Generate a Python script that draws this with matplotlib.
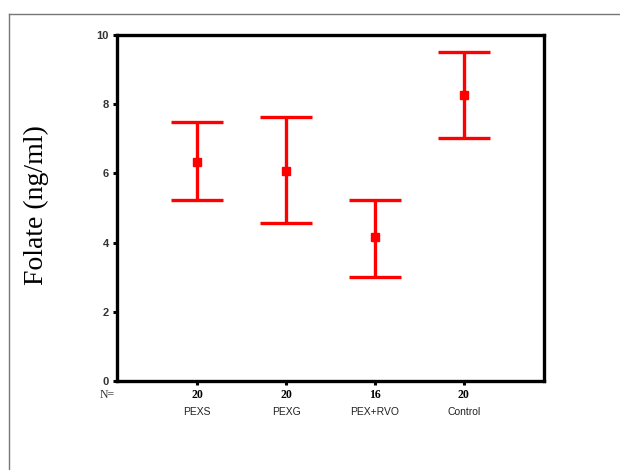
import matplotlib
matplotlib.use("Agg")
import matplotlib.pyplot as plt
from matplotlib.lines import Line2D
from matplotlib.transforms import blended_transform_factory

categories = ["PEXS", "PEXG", "PEX+RVO", "Control"]
n_values = ["20", "20", "16", "20"]
means = [6.33, 6.08, 4.15, 8.27]
upper = [7.49, 7.62, 5.23, 9.51]
lower = [5.23, 4.57, 3.00, 7.02]
yticks = [0, 2, 4, 6, 8, 10]

fig = plt.figure(figsize=(6.2, 4.7), dpi=100)
ax = fig.add_axes([117/620, 1-381/470, (544-117)/620, (381-35)/470])

x = list(range(1, len(categories)+1))
yerr_lo = [m - l for m, l in zip(means, lower)]
yerr_hi = [u - m for m, u in zip(means, upper)]
ax.errorbar(x, means, yerr=[yerr_lo, yerr_hi], fmt='s', color='#ff0000',
            ecolor='#ff0000', elinewidth=2.4, capsize=19, capthick=2.4,
            markersize=6, linestyle='none')

ax.set_xlim(0.1, 4.9)
ax.set_ylim(0, 10)
ax.set_yticks(yticks)
ax.set_yticklabels([str(t) for t in yticks], fontfamily='Liberation Sans',
                   fontweight='bold', fontsize=8, color='#333333')
ax.set_xticks(x)
ax.set_xticklabels(n_values, fontfamily='Liberation Serif', fontweight='bold',
                   fontsize=8.5)
ax.tick_params(axis='both', direction='out', length=3, width=2.2, color='black')
ax.tick_params(axis='x', pad=3)
ax.tick_params(axis='y', pad=3)
for s in ax.spines.values():
    s.set_linewidth(2.4)
    s.set_color('black')

trans = blended_transform_factory(ax.transData, fig.transFigure)
for xi, cat in zip(x, categories):
    ax.text(xi, 1-412/470, cat, transform=trans, ha='center', va='center',
            fontfamily='Liberation Sans', fontsize=7.5, color='#222222')
fig.text(107/620, 1-395/470, "N=", ha='center', va='center',
         fontfamily='Liberation Serif', fontsize=8.5, color='#333333')

fig.text(36/620, 1-205/470, "Folate (ng/ml)", rotation=90, ha='center',
         va='center', fontfamily='Liberation Serif', fontsize=20)

# outer frame
fig.add_artist(Line2D([9/620, 9/620], [0, 1-14/470], transform=fig.transFigure,
                      color='#777777', linewidth=1.0))
fig.add_artist(Line2D([9/620, 1], [1-14/470, 1-14/470], transform=fig.transFigure,
                      color='#777777', linewidth=1.0))

fig.savefig("out.png", dpi=100)
